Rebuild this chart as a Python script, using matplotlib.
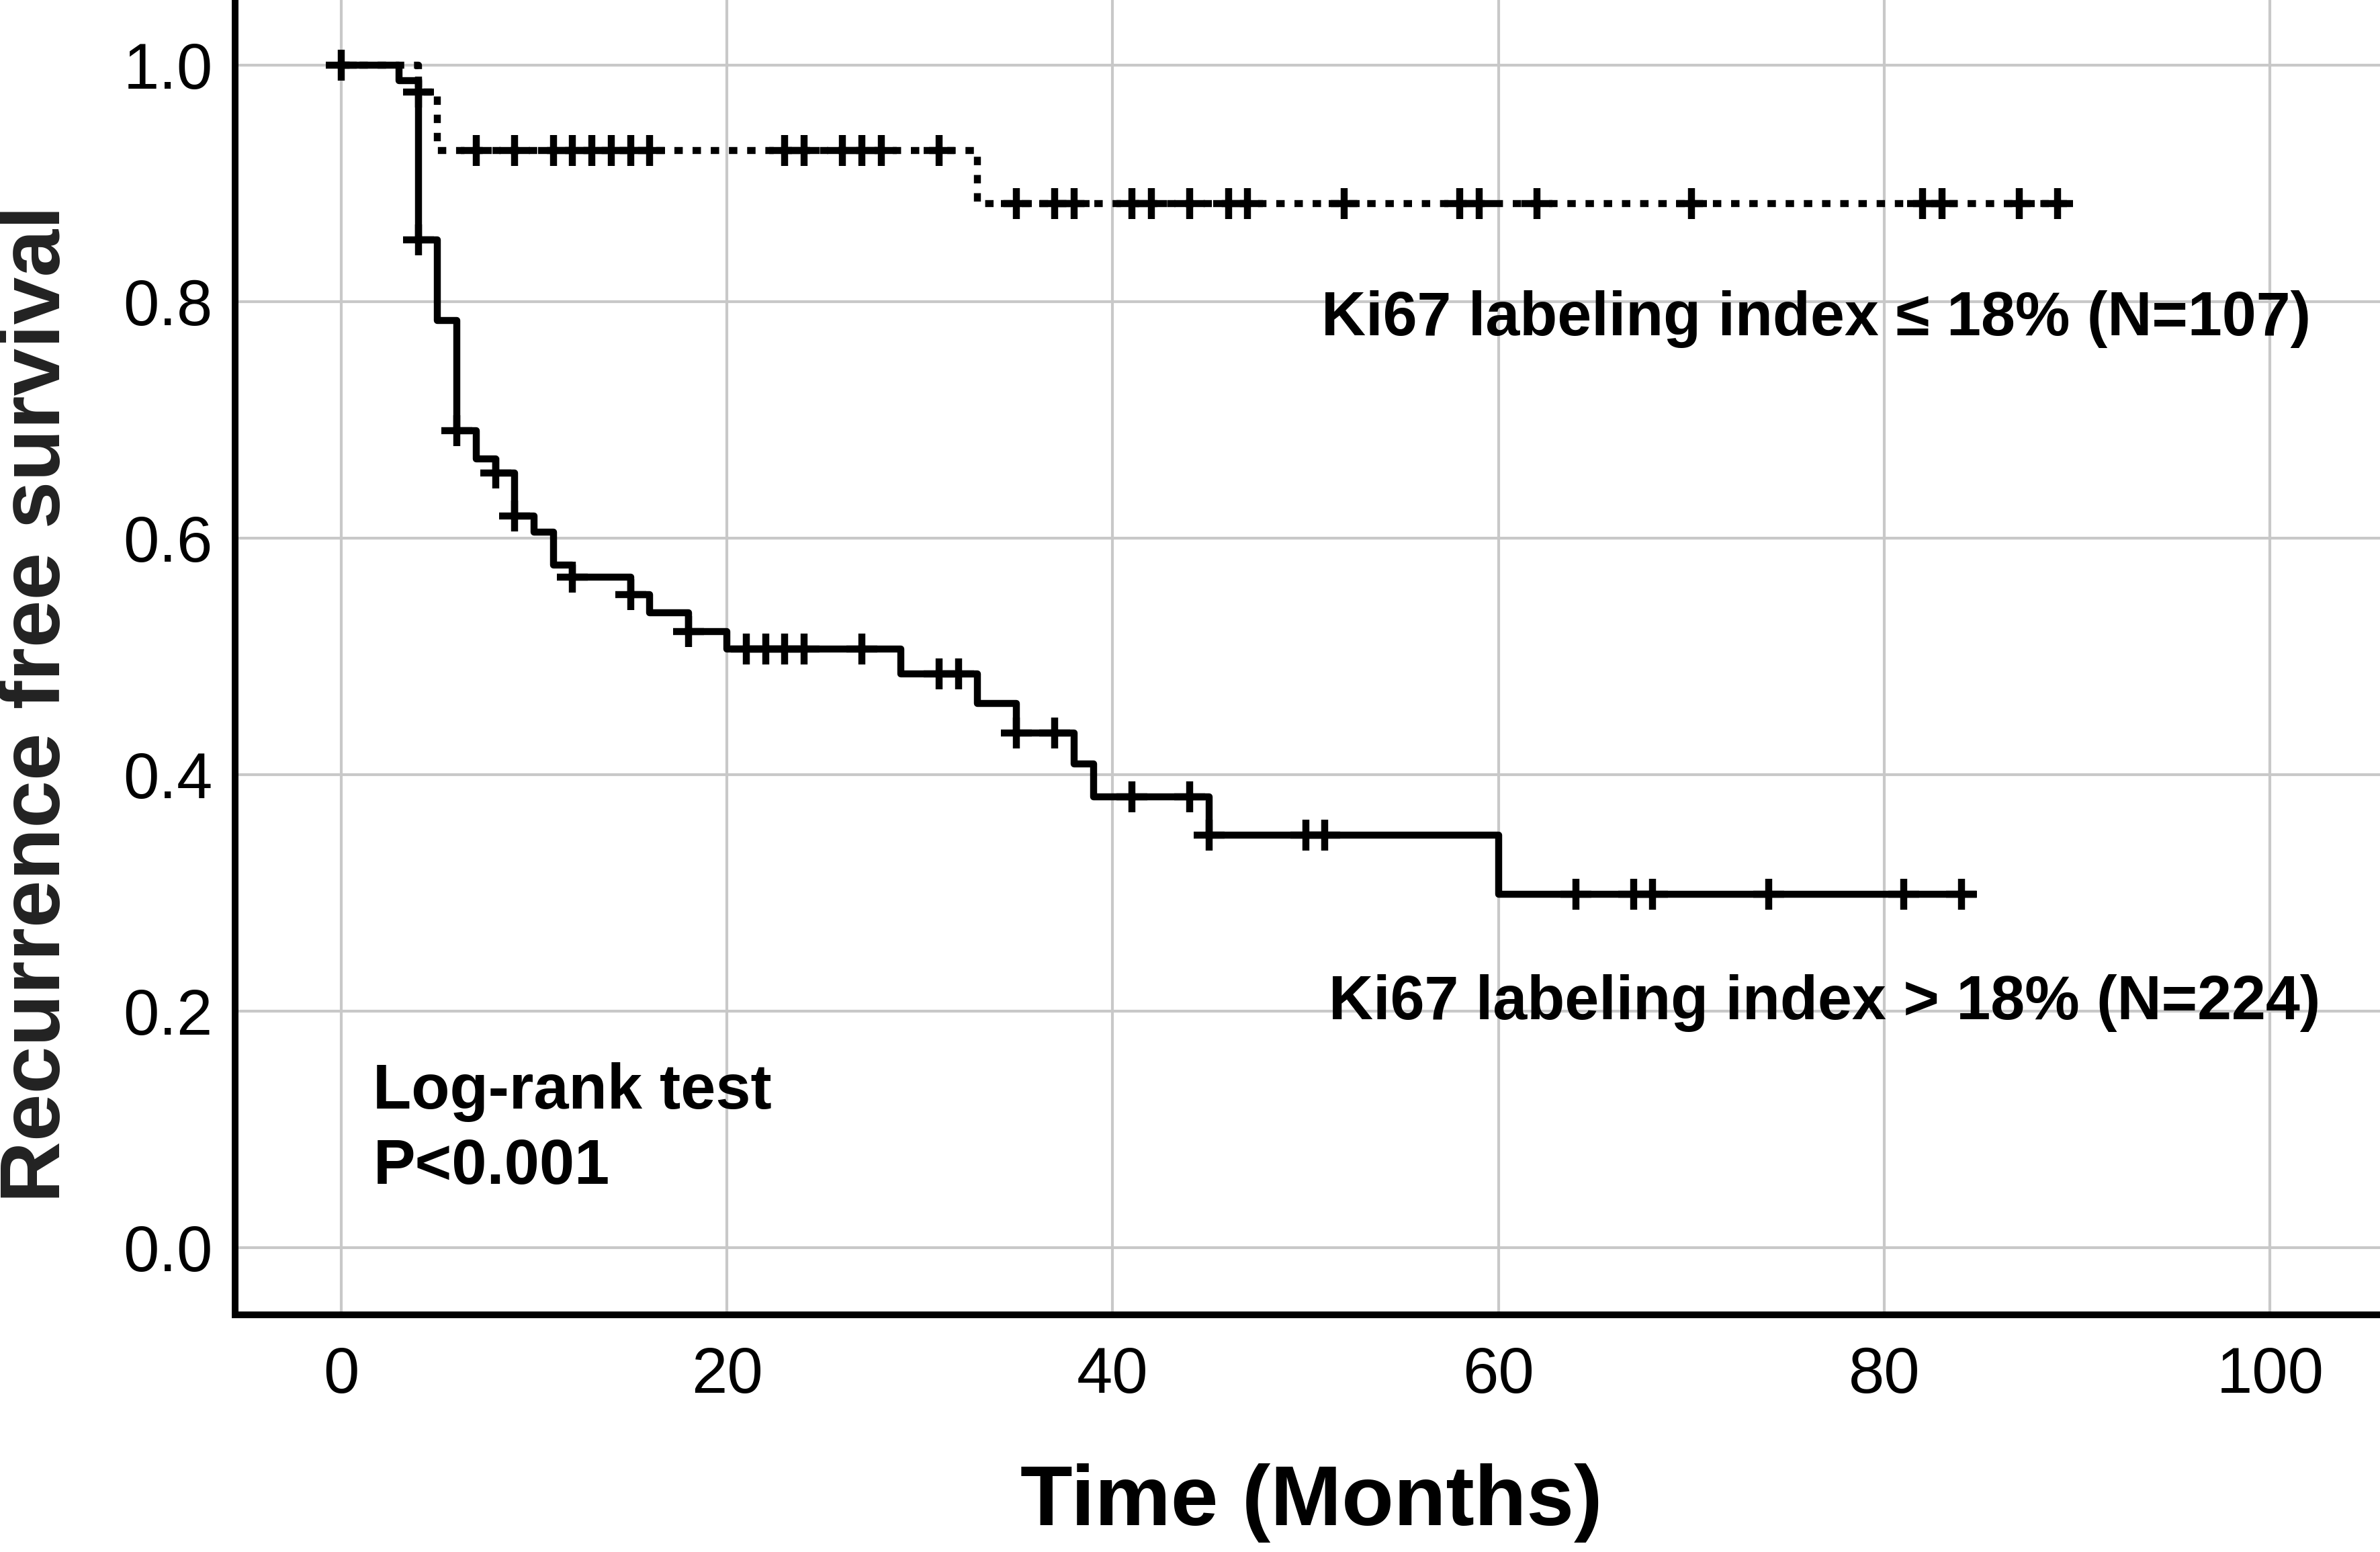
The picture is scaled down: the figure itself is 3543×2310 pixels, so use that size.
import numpy as np
import matplotlib
matplotlib.use("Agg")
import matplotlib.pyplot as plt

# Kaplan-Meier curves (months, survival)
low_times = [0, 4, 5, 33]
low_surv = [1.0, 0.977, 0.928, 0.883]
low_end = 89.6
low_censor = [0, 4, 7, 9, 11, 12, 13, 14, 15, 16, 23, 24, 26, 27, 28, 31,
              35, 37, 38, 41, 42, 44, 46, 47, 52, 58, 59, 62, 70, 82, 83, 87, 89]

high_times = [0, 3, 4, 5, 6, 7, 8, 9, 10, 11, 12, 15, 16, 18, 20,
              29, 33, 35, 38, 39, 45, 60]
high_surv = [1.0, 0.987, 0.852, 0.784, 0.691, 0.667, 0.655, 0.619, 0.605,
             0.577, 0.567, 0.552, 0.537, 0.521, 0.506, 0.485, 0.460, 0.435,
             0.409, 0.381, 0.349, 0.299]
high_end = 84.6
high_censor = [4, 6, 8, 9, 12, 15, 18, 21, 22, 23, 24, 27, 31, 32, 35, 37,
               41, 44, 45, 50, 51, 64, 67, 68, 74, 81, 84]

x_ticks = [0, 20, 40, 60, 80, 100]
y_ticks = [0.0, 0.2, 0.4, 0.6, 0.8, 1.0]

plt.rcParams['font.family'] = ['Liberation Sans', 'DejaVu Sans']

W, H = 3543, 2310
fig = plt.figure(figsize=(W / 300, H / 300), dpi=300)
ax = fig.add_axes([350 / W, 1 - 1957 / H, 1 - 350 / W, 1957 / H])


def km_line(times, surv, end):
    """Step coordinates, carrying the last level out to the end of follow-up."""
    return np.append(times, end), np.append(surv, surv[-1])


def surv_at(times, surv, t):
    idx = np.searchsorted(times, t, side='right') - 1
    return np.asarray(surv)[idx]


# Ki67 <= 18% (dotted)
x, y = km_line(low_times, low_surv, low_end)
ax.step(x, y, where='post', color='black', lw=2.5, linestyle=(0, (1.2, 1.4)))
ax.plot(low_censor, surv_at(low_times, low_surv, low_censor), linestyle='none',
        marker='+', ms=11, mew=2.5, color='black')

# Ki67 > 18% (solid)
x, y = km_line(high_times, high_surv, high_end)
ax.step(x, y, where='post', color='black', lw=2.5)
ax.plot(high_censor, surv_at(high_times, high_surv, high_censor), linestyle='none',
        marker='+', ms=11, mew=2.5, color='black')

ax.set_xlim(-5.5, 105.7)
ax.set_ylim(-0.0568, 1.0551)
ax.set_xticks(x_ticks)
ax.set_yticks(y_ticks)
ax.set_yticklabels(['%.1f' % v for v in y_ticks])
ax.tick_params(length=0, labelsize=23)
ax.tick_params(axis='x', pad=11)
ax.tick_params(axis='y', pad=8)

ax.grid(True, color='#c8c8c8', lw=1.0)
ax.set_axisbelow(True)
for side in ['top', 'right']:
    ax.spines[side].set_visible(False)
for side in ['left', 'bottom']:
    ax.spines[side].set_linewidth(2.4)
    ax.spines[side].set_color('black')

# annotations
ax.text(50.8, 0.785, 'Ki67 labeling index \u2264 18% (N=107)', fontsize=22,
        fontweight='bold', ha='left', va='center')
ax.text(51.2, 0.207, 'Ki67 labeling index > 18% (N=224)', fontsize=22,
        fontweight='bold', ha='left', va='center')
ax.text(1.65, 0.1176, 'Log-rank test', fontsize=22.5, fontweight='bold',
        ha='left', va='baseline')
ax.text(1.65, 0.054, 'P<0.001', fontsize=22.5, fontweight='bold',
        ha='left', va='baseline')

fig.text(1952 / W, 1 - 2270 / H, 'Time (Months)', fontsize=30.5,
         fontweight='bold', ha='center', va='baseline')
fig.text(56 / W, 1 - 1048 / H, 'Recurrence free survival', fontsize=30.5,
         fontweight='bold', color='#222222', rotation=90, ha='center', va='center')

plt.savefig("out.png", dpi=300)
